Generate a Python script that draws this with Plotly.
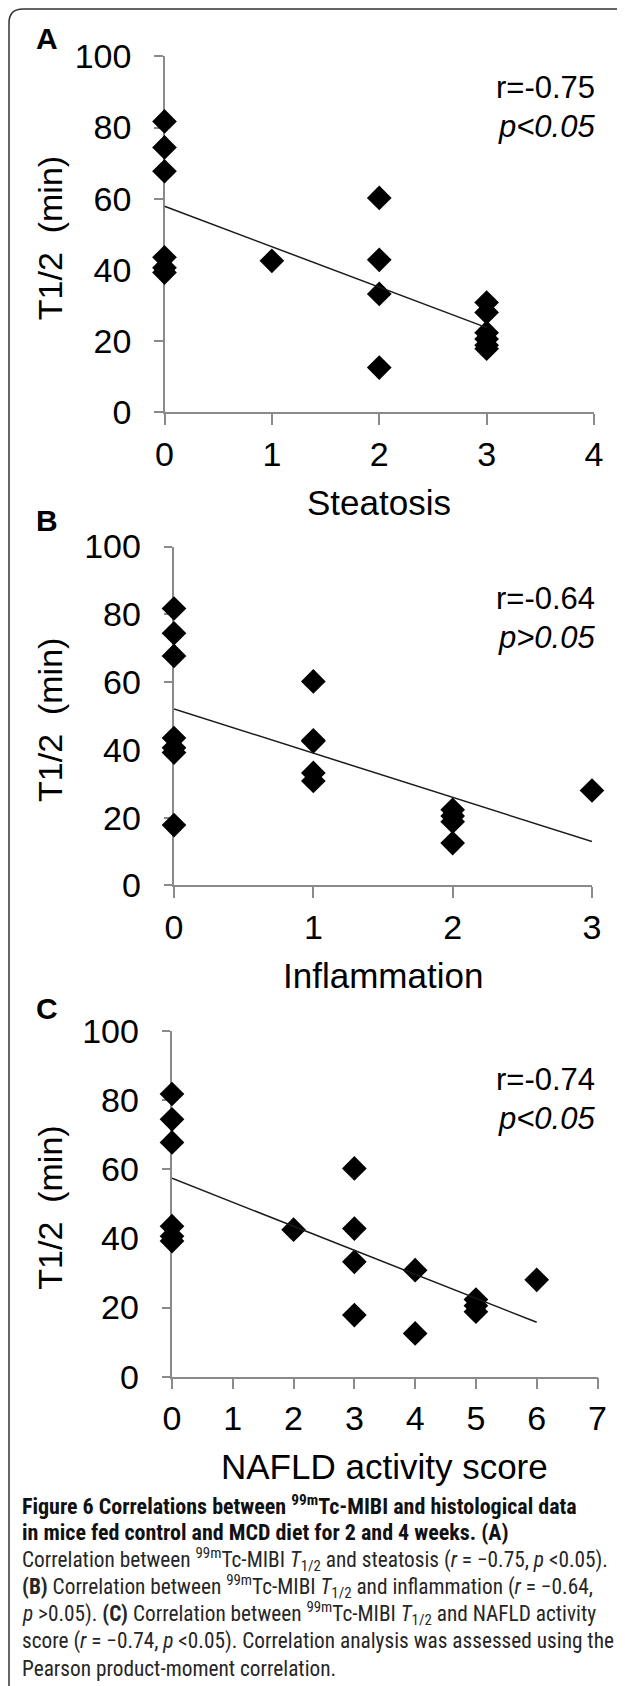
import numpy as np
import plotly.graph_objects as go

# ---------------- data ----------------
t_half = [81.7, 74.4, 67.7, 43.5, 40.6, 39.2,
          42.5, 60.2, 42.8, 33.2, 12.5, 17.8, 30.8, 22.3, 20.5, 18.8, 28.0]
steatosis = [0, 0, 0, 0, 0, 0, 1, 2, 2, 2, 2, 3, 3, 3, 3, 3, 3]
inflammation = [0, 0, 0, 0, 0, 0, 1, 1, 1, 1, 2, 0, 1, 2, 2, 2, 3]
nas = [0, 0, 0, 0, 0, 0, 2, 3, 3, 3, 4, 3, 4, 5, 5, 5, 6]

panel_letters = ["A", "B", "C"]
x_titles = ["Steatosis", "Inflammation", "NAFLD activity score"]
x_max = [4, 3, 7]
r_texts = ["r=-0.75", "r=-0.64", "r=-0.74"]
p_texts = ["p&lt;0.05", "p&gt;0.05", "p&lt;0.05"]
y_title = "T1/2  (min)"
y_tickvals = [0, 20, 40, 60, 80, 100]

caption_lines = [
    "<b>Figure 6 Correlations between <sup>99m</sup>Tc-MIBI and histological data</b>",
    "<b>in mice fed control and MCD diet for 2 and 4 weeks. (A)</b>",
    "Correlation between <sup>99m</sup>Tc-MIBI <i>T</i><sub>1/2</sub> and steatosis (<i>r</i> = \u22120.75, <i>p</i> &lt;0.05).",
    "<b>(B)</b> Correlation between <sup>99m</sup>Tc-MIBI <i>T</i><sub>1/2</sub> and inflammation (<i>r</i> = \u22120.64,",
    "<i>p</i> &gt;0.05). <b>(C)</b> Correlation between <sup>99m</sup>Tc-MIBI <i>T</i><sub>1/2</sub> and NAFLD activity",
    "score (<i>r</i> = \u22120.74, <i>p</i> &lt;0.05). Correlation analysis was assessed using the",
    "Pearson product-moment correlation.",
]

# ---------------- layout geometry (page pixels) ----------------
W, H = 625, 1686
OFF = 8  # default page margin around the plot div
panels = [
    dict(x0=164.5, x1=594.0, yb=412.0, yt=56.4, letter_y=38.4, r_y=87.0, p_y=126.5),
    dict(x0=174.0, x1=592.0, yb=885.4, yt=546.5, letter_y=520.3, r_y=598.5, p_y=637.0),
    dict(x0=172.0, x1=597.5, yb=1376.7, yt=1030.7, letter_y=1008.7, r_y=1079.0, p_y=1118.0),
]
caption_y0, caption_dy = 1505.0, 27.2


def px(x):
    return (x - OFF) / W


def py(y):
    return 1 - (y - OFF) / H


FONT = "Liberation Sans, Arial, sans-serif"
CAPFONT = "Liberation Sans Narrow, Roboto Condensed, Roboto, sans-serif"
AXCOL = "#8a8a8a"

xs_all = [steatosis, inflammation, nas]

fig = go.Figure()
annotations = []

for i, (xs, pan) in enumerate(zip(xs_all, panels)):
    n = "" if i == 0 else str(i + 1)
    xa, ya = "x" + n, "y" + n
    fig.add_trace(go.Scatter(
        x=xs, y=t_half, mode="markers", xaxis=xa, yaxis=ya,
        marker=dict(symbol="diamond", size=19, color="black", line=dict(width=0)),
        cliponaxis=False, showlegend=False, hoverinfo="skip"))
    slope, intercept = np.polyfit(np.array(xs, float), np.array(t_half, float), 1)
    xl = np.array([0.0, float(max(xs))])
    fig.add_trace(go.Scatter(
        x=xl, y=intercept + slope * xl, mode="lines", xaxis=xa, yaxis=ya,
        line=dict(color="#1a1a1a", width=1.5),
        cliponaxis=False, showlegend=False, hoverinfo="skip"))

    common = dict(showgrid=False, zeroline=False, showline=True, linecolor=AXCOL,
                  linewidth=1.5, ticks="outside", tickcolor=AXCOL, tickwidth=1.5,
                  tickfont=dict(family=FONT, size=34, color="black"),
                  layer="below traces", fixedrange=True, automargin=False)
    fig.layout["xaxis" + n] = dict(
        common, domain=[px(pan["x0"]), px(pan["x1"])], range=[0, x_max[i]],
        tickmode="array", tickvals=list(range(0, x_max[i] + 1)), ticklen=11,
        ticklabelstandoff=0, anchor=ya)
    fig.layout["yaxis" + n] = dict(
        common, domain=[py(pan["yb"]), py(pan["yt"])], range=[0, 100],
        tickmode="array", tickvals=y_tickvals, ticklen=8.5,
        ticklabelstandoff=16, anchor=xa)

    cx = (pan["x0"] + pan["x1"]) / 2
    cy = (pan["yb"] + pan["yt"]) / 2
    annotations.append(dict(text="<b>%s</b>" % panel_letters[i], x=px(46.5), y=py(pan["letter_y"]),
                            xref="paper", yref="paper", xanchor="center", yanchor="middle",
                            showarrow=False, font=dict(family=FONT, size=30, color="black")))
    annotations.append(dict(text=x_titles[i], x=px(cx), y=py(pan["yb"] + 90),
                            xref="paper", yref="paper", xanchor="center", yanchor="middle",
                            showarrow=False, font=dict(family=FONT, size=35, color="black")))
    annotations.append(dict(text=y_title, x=px(50), y=py(cy + 4), textangle=-90,
                            xref="paper", yref="paper", xanchor="center", yanchor="middle",
                            showarrow=False, font=dict(family=FONT, size=34, color="black")))
    annotations.append(dict(text=r_texts[i], x=px(597), y=py(pan["r_y"]),
                            xref="paper", yref="paper", xanchor="right", yanchor="middle",
                            showarrow=False, font=dict(family=FONT, size=31, color="black")))
    annotations.append(dict(text="<i>%s</i>" % p_texts[i], x=px(597), y=py(pan["p_y"]),
                            xref="paper", yref="paper", xanchor="right", yanchor="middle",
                            showarrow=False, font=dict(family=FONT, size=31, color="black")))

for k, line in enumerate(caption_lines):
    yy = caption_y0 + k * caption_dy
    annotations.append(dict(text=line, x=px(20), y=py(yy), xref="paper", yref="paper",
                            xanchor="left", yanchor="middle", showarrow=False,
                            font=dict(family=CAPFONT, size=22 if k < 2 else 21.3,
                                      color="#111111" if k < 2 else "#262626")))

fx, fy, rad = 9.0, 9.0, 14.0
frame = "M %f,%f L %f,%f Q %f,%f %f,%f L %f,%f" % (
    px(fx), py(H + OFF), px(fx), py(fy + rad), px(fx), py(fy), px(fx + rad), py(fy),
    px(W + OFF), py(fy))

fig.update_layout(
    template="none",
    width=W, height=H, margin=dict(l=0, r=0, t=0, b=0, pad=0),
    paper_bgcolor="white", plot_bgcolor="white",
    annotations=annotations,
    shapes=[dict(type="path", path=frame, xref="paper", yref="paper",
                 line=dict(color="#333333", width=1.5))],
    showlegend=False,
)

fig.write_html("out.html")
